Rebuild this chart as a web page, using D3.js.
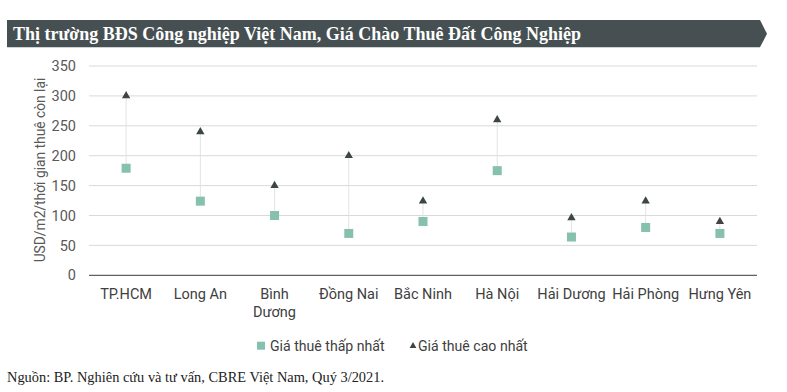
<!DOCTYPE html>
<html><head><meta charset="utf-8">
<script src="https://cdn.jsdelivr.net/npm/d3@7"></script>
<style>body{margin:0;background:#fff}svg{display:block}</style>
</head><body><svg id="c" width="787" height="392"></svg>
<script>
const categories = [["TP.HCM"],["Long An"],["Bình","Dương"],["Đồng Nai"],["Bắc Ninh"],["Hà Nội"],["Hải Dương"],["Hải Phòng"],["Hưng Yên"]];
const lowValues = [179, 124, 100, 70, 90, 175, 64, 80, 70];
const highValues = [300, 240, 150, 200, 124, 260, 96, 124, 90];
const yTicks = [0, 50, 100, 150, 200, 250, 300, 350];
const titleText = "Thị trường BĐS Công nghiệp Việt Nam, Giá Chào Thuê Đất Công Nghiệp";
const yTitle = "USD/m2/thời gian thuê còn lại";
const legendLabels = ["Giá thuê thấp nhất", "Giá thuê cao nhất"];
const sourceText = "Nguồn: BP. Nghiên cứu và tư vấn, CBRE Việt Nam, Quý 3/2021.";

const svg = d3.select("#c");
const sans = "Roboto, 'Noto Sans', sans-serif";
const serif = "'Liberation Serif', 'Times New Roman', serif";

// banner
svg.append("path").attr("d", "M7,20 L760,20 L767,33.7 L760,47.3 L7,47.3 Z").attr("fill", "#465052");
svg.append("text").attr("x", 13).attr("y", 40).attr("fill", "#fff")
  .attr("font-family", serif).attr("font-weight", "bold").attr("font-size", 18).text(titleText);

const x = d3.scaleBand().domain(d3.range(categories.length)).range([89, 757]);
const y = d3.scaleLinear().domain([0, 350]).range([275.3, 66]);

const g = svg.append("g");
// gridlines
g.selectAll("line.grid").data(yTicks).join("line")
  .attr("x1", 89).attr("x2", 757).attr("y1", d => y(d)).attr("y2", d => y(d))
  .attr("stroke", d => d === 0 ? "#3a3a3a" : "#d9d9d9").attr("stroke-width", 1);

// y axis labels
const yAxis = d3.axisLeft(y).tickValues(yTicks).tickSize(0).tickPadding(0);
const ya = svg.append("g").attr("transform", "translate(76,0)").call(yAxis);
ya.select(".domain").remove();
ya.selectAll("text").attr("font-family", sans).attr("font-size", 14.5).attr("fill", "#595959");

svg.append("text").attr("transform", "translate(45,170) rotate(-90)").attr("text-anchor", "middle")
  .attr("font-family", sans).attr("font-size", 13.8).attr("fill", "#595959").text(yTitle);

// x labels
const xl = svg.append("g").selectAll("text").data(categories).join("text")
  .attr("x", (d, i) => x(i) + x.bandwidth() / 2).attr("y", 298.5)
  .attr("text-anchor", "middle").attr("font-family", sans).attr("font-size", 14.5).attr("fill", "#404040");
xl.each(function(d) {
  const t = d3.select(this);
  d.forEach((s, k) => t.append("tspan").attr("x", t.attr("x")).attr("dy", k === 0 ? 0 : 18).text(s));
});

// connectors
const cx = i => x(i) + x.bandwidth() / 2;
g.selectAll("line.conn").data(d3.range(categories.length)).join("line")
  .attr("x1", cx).attr("x2", cx).attr("y1", i => y(highValues[i])).attr("y2", i => y(lowValues[i]))
  .attr("stroke", "#e3e3e3").attr("stroke-width", 1);

// low squares
g.selectAll("rect.low").data(lowValues).join("rect")
  .attr("x", (d, i) => cx(i) - 4.5).attr("y", d => y(d) - 4.5).attr("width", 9).attr("height", 9)
  .attr("fill", "#86c0ae");

// high triangles
const tri = d3.symbol().type(d3.symbolTriangle).size(30);
g.selectAll("path.high").data(highValues).join("path")
  .attr("d", tri).attr("transform", (d, i) => `translate(${cx(i)},${y(d)})`)
  .attr("fill", "#3d4547");

// legend
svg.append("rect").attr("x", 257).attr("y", 341.7).attr("width", 8).attr("height", 8).attr("fill", "#86c0ae");
svg.append("text").attr("x", 270).attr("y", 350.5).attr("font-family", sans).attr("font-size", 14.1).attr("fill", "#404040").text(legendLabels[0]);
svg.append("path").attr("d", d3.symbol().type(d3.symbolTriangle).size(20)).attr("transform", "translate(413,346)").attr("fill", "#3d4547");
svg.append("text").attr("x", 418).attr("y", 350.5).attr("font-family", sans).attr("font-size", 14.1).attr("fill", "#404040").text(legendLabels[1]);

// source
svg.append("text").attr("x", 7).attr("y", 381.5).attr("font-family", serif).attr("font-size", 14.4).attr("fill", "#222").text(sourceText);
</script></body></html>
